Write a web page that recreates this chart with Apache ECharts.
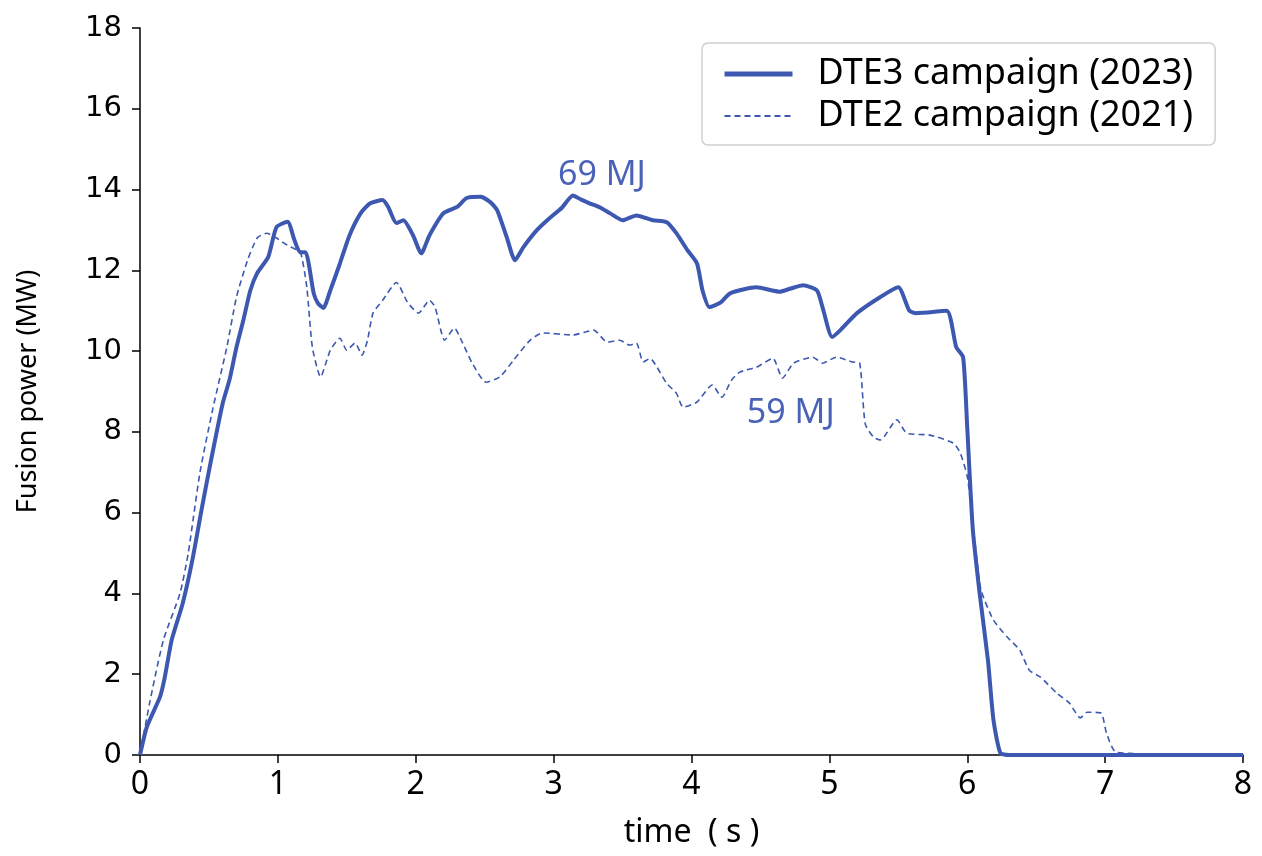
<!DOCTYPE html>
<html>
<head>
<meta charset="utf-8">
<script src="https://cdn.jsdelivr.net/npm/echarts@6/dist/echarts.min.js"></script>
<style>html,body{margin:0;padding:0;background:#fff;}#c{width:1262px;height:856px;}</style>
</head>
<body>
<div id="c"></div>
<script>
const seriesNames = ['DTE3 campaign (2023)', 'DTE2 campaign (2021)'];
const xTicks = [0, 1, 2, 3, 4, 5, 6, 7, 8];
const yTicks = [0, 2, 4, 6, 8, 10, 12, 14, 16, 18];
const annotations = ['69 MJ', '59 MJ'];
const annotationAt = [[3.35, 14.35], [4.72, 8.45]];

const dte3Time = [0, 0.05, 0.145, 0.18, 0.23, 0.31, 0.38, 0.45, 0.52, 0.60, 0.65, 0.70, 0.75, 0.80, 0.85, 0.93, 0.99, 1.07, 1.12, 1.16, 1.20, 1.26, 1.29, 1.33, 1.38, 1.45, 1.52, 1.60, 1.67, 1.76, 1.80, 1.86, 1.91, 1.98, 2.04, 2.10, 2.20, 2.30, 2.37, 2.47, 2.54, 2.59, 2.66, 2.72, 2.78, 2.88, 2.97, 3.06, 3.14, 3.20, 3.26, 3.34, 3.41, 3.50, 3.60, 3.72, 3.82, 3.89, 3.97, 4.04, 4.08, 4.13, 4.21, 4.28, 4.47, 4.64, 4.72, 4.81, 4.91, 4.95, 5.02, 5.08, 5.20, 5.37, 5.50, 5.58, 5.63, 5.85, 5.92, 5.97, 6.00, 6.04, 6.09, 6.15, 6.19, 6.24, 6.30, 8.0];
const dte3Power = [0, 0.7, 1.44, 1.93, 2.85, 3.76, 4.83, 6.14, 7.38, 8.71, 9.3, 10.1, 10.77, 11.5, 11.93, 12.33, 13.07, 13.2, 12.75, 12.45, 12.45, 11.43, 11.19, 11.07, 11.5, 12.17, 12.87, 13.41, 13.66, 13.74, 13.57, 13.17, 13.24, 12.87, 12.42, 12.87, 13.41, 13.57, 13.79, 13.82, 13.69, 13.49, 12.82, 12.25, 12.57, 13.0, 13.29, 13.55, 13.85, 13.75, 13.66, 13.55, 13.41, 13.24, 13.36, 13.24, 13.19, 12.92, 12.5, 12.17, 11.5, 11.09, 11.2, 11.43, 11.58, 11.47, 11.55, 11.63, 11.5, 11.09, 10.35, 10.52, 10.94, 11.34, 11.58, 11.0, 10.94, 11.0, 10.1, 9.85, 8.1, 5.6, 4.0, 2.35, 0.87, 0.05, 0, 0];

const dte2Time = [0, 0.07, 0.17, 0.29, 0.35, 0.435, 0.53, 0.63, 0.70, 0.78, 0.85, 0.92, 0.99, 1.07, 1.14, 1.17, 1.21, 1.25, 1.31, 1.38, 1.45, 1.50, 1.56, 1.61, 1.65, 1.69, 1.76, 1.86, 1.94, 2.02, 2.10, 2.14, 2.21, 2.28, 2.34, 2.41, 2.51, 2.61, 2.71, 2.83, 2.92, 3.14, 3.29, 3.39, 3.48, 3.55, 3.60, 3.65, 3.70, 3.75, 3.82, 3.89, 3.94, 4.04, 4.15, 4.22, 4.29, 4.35, 4.47, 4.59, 4.66, 4.74, 4.88, 4.95, 5.05, 5.17, 5.22, 5.26, 5.32, 5.37, 5.49, 5.56, 5.73, 5.90, 5.95, 6.00, 6.03, 6.07, 6.10, 6.19, 6.29, 6.38, 6.45, 6.53, 6.65, 6.74, 6.82, 6.87, 6.97, 7.01, 7.08, 7.5, 8.0];
const dte2Power = [0, 1.29, 2.85, 4.0, 5.0, 7.0, 8.6, 10.1, 11.34, 12.25, 12.8, 12.92, 12.8, 12.62, 12.5, 12.38, 11.58, 10.1, 9.36, 10.02, 10.32, 10.02, 10.2, 9.9, 10.27, 10.94, 11.26, 11.7, 11.21, 10.94, 11.26, 11.09, 10.27, 10.57, 10.2, 9.7, 9.23, 9.36, 9.78, 10.27, 10.45, 10.4, 10.52, 10.22, 10.27, 10.15, 10.2, 9.73, 9.82, 9.6, 9.2, 8.96, 8.61, 8.74, 9.16, 8.86, 9.28, 9.48, 9.6, 9.82, 9.33, 9.7, 9.85, 9.7, 9.85, 9.73, 9.7, 8.2, 7.87, 7.8, 8.3, 7.97, 7.92, 7.72, 7.47, 6.9, 6.06, 4.83, 4.08, 3.34, 2.92, 2.6, 2.1, 1.93, 1.53, 1.29, 0.92, 1.06, 1.04, 0.54, 0.07, 0.02, 0];

const BLUE = '#3d58b0';
const pairs = (t, p) => t.map((v, i) => [v, p[i]]);

const chart = echarts.init(document.getElementById('c'), null, { renderer: 'canvas' });
const option = {
  backgroundColor: '#fff',
  animation: false,
  grid: { left: 140, right: 19, top: 28, bottom: 101, containLabel: false },
  legend: {
    orient: 'vertical',
    left: 702, top: 43,
    padding: [13, 22, 11, 20],
    itemGap: 6,
    itemWidth: 68, itemHeight: 14,
    borderColor: '#cfcfcf', borderWidth: 1.5, borderRadius: 6,
    backgroundColor: '#fff',
    itemStyle: { opacity: 0 },
    textStyle: { fontFamily: 'Noto Sans', fontSize: 36, color: '#000', lineHeight: 36, padding: [0, 0, 0, 20] },
    data: [
      { name: seriesNames[0], lineStyle: { width: 5 }, itemStyle: { opacity: 0 } },
      { name: seriesNames[1], lineStyle: { width: 2 }, itemStyle: { opacity: 0 } }
    ]
  },
  xAxis: {
    type: 'value', min: 0, max: 8, interval: 1,
    name: 'time  ( s )', nameLocation: 'middle', nameGap: 62,
    nameTextStyle: { fontFamily: 'Noto Sans', fontSize: 32, color: '#000' },
    axisLine: { show: true, onZero: false, lineStyle: { color: '#000', width: 1.5 } },
    axisTick: { show: true, inside: false, length: 8, lineStyle: { color: '#000', width: 1.5 } },
    axisLabel: { margin: 14, fontFamily: 'Noto Sans', fontSize: 32, color: '#000',
      formatter: v => xTicks.indexOf(v) >= 0 ? String(v) : '' },
    splitLine: { show: false }
  },
  yAxis: {
    type: 'value', min: 0, max: 18, interval: 2,
    name: 'Fusion power (MW)', nameLocation: 'middle', nameGap: 98, nameRotate: 90,
    nameTextStyle: { fontFamily: 'Noto Sans', fontSize: 27, color: '#000' },
    axisLine: { show: true, lineStyle: { color: '#000', width: 1.5 } },
    axisTick: { show: true, inside: false, length: 8, lineStyle: { color: '#000', width: 1.5 } },
    axisLabel: { margin: 18, fontFamily: 'DejaVu Sans', fontSize: 29, color: '#000',
      formatter: v => yTicks.indexOf(v) >= 0 ? String(v) : '' },
    splitLine: { show: false }
  },
  series: [
    {
      name: seriesNames[0], type: 'line', data: pairs(dte3Time, dte3Power),
      showSymbol: false, symbol: 'none', smooth: 0.2, z: 3,
      lineStyle: { color: BLUE, width: 4 }, itemStyle: { color: BLUE }
    },
    {
      name: seriesNames[1], type: 'line', data: pairs(dte2Time, dte2Power),
      showSymbol: false, symbol: 'none', smooth: 0.2, z: 2,
      lineStyle: { color: BLUE, width: 1.6, type: [6, 4] }, itemStyle: { color: BLUE }
    }
  ]
};
chart.setOption(option);

const graphics = annotations.map((txt, i) => {
  const p = chart.convertToPixel({ gridIndex: 0 }, annotationAt[i]);
  return {
    type: 'text', x: p[0], y: p[1],
    style: { text: txt, fill: '#4a62b8', font: '34px "Noto Sans"', align: 'center', verticalAlign: 'middle' }
  };
});
chart.setOption({ graphic: graphics });
</script>
</body>
</html>
